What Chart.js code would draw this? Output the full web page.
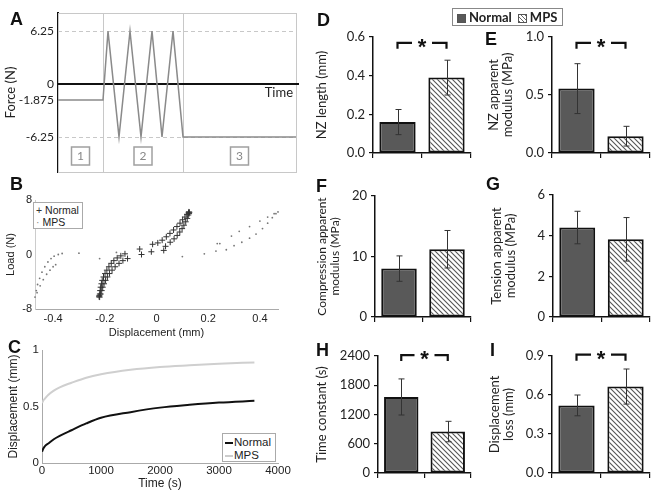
<!DOCTYPE html>
<html lang="en">
<head>
<meta charset="UTF-8">
<title>Disc mechanics: Normal vs MPS</title>
<script src="https://cdn.jsdelivr.net/npm/chart.js"></script>
<style>
  body { margin: 0; background: #fff; }
  #fig { position: relative; width: 654px; height: 498px; overflow: hidden; }
  #fig canvas { position: absolute; }
  .tag { position: absolute; font: bold 18px "Liberation Sans", Arial, sans-serif; line-height: 1; color: #111; z-index: 3; }
  .mleg { position: absolute; box-sizing: border-box; border: 1px solid #aaa; background: #fff; z-index: 3; white-space: nowrap;
          font: 10.5px "Liberation Sans", Arial, sans-serif; color: #222; line-height: 12px; padding: 1px 2px; }
  .mleg .ln { display: inline-block; width: 8px; height: 0; border-top: 2px solid #111; vertical-align: middle; margin-right: 1px; }
  #legTop { position: absolute; left: 452px; top: 8px; width: 111px; height: 18px; box-sizing: border-box; white-space: nowrap;
            border: 1px solid #888; z-index: 3; font: bold 13px Lato, sans-serif; color: #222; line-height: 16px; padding-left: 3px; }
  #legTop .sw { display: inline-block; width: 9px; height: 9px; margin: 0 3px 0 1px; vertical-align: -1px; box-sizing: border-box; border: 1px solid #555; }
  #legTop .dark { background: #595959; }
  #legTop .hatch { background: repeating-linear-gradient(45deg, #666 0 1px, #fff 1px 3px); margin-left: 6px; }
</style>
</head>
<body>
<div id="fig">
  <canvas id="chartA"></canvas>
  <canvas id="chartB"></canvas>
  <canvas id="chartC"></canvas>
  <canvas id="chartD"></canvas>
  <canvas id="chartE"></canvas>
  <canvas id="chartF"></canvas>
  <canvas id="chartG"></canvas>
  <canvas id="chartH"></canvas>
  <canvas id="chartI"></canvas>

  <div class="tag" style="left:10px;top:10px">A</div>
  <div class="tag" style="left:10px;top:175px">B</div>
  <div class="tag" style="left:8px;top:338px">C</div>
  <div class="tag" style="left:317px;top:11px">D</div>
  <div class="tag" style="left:485px;top:30px">E</div>
  <div class="tag" style="left:316px;top:177px">F</div>
  <div class="tag" style="left:486px;top:175px">G</div>
  <div class="tag" style="left:316px;top:341px">H</div>
  <div class="tag" style="left:490px;top:341px">I</div>

  <div id="legTop"><span class="sw dark"></span>Normal<span class="sw hatch"></span>MPS</div>
  <div class="mleg" style="left:33px;top:202px;width:50px;height:27px">
    <div><span style="color:#333">+</span> Normal</div>
    <div><span style="color:#888">&middot;</span> MPS</div>
  </div>
  <div class="mleg" style="left:222px;top:433px;width:54px;height:29px;padding-top:2px;font-size:11.5px;line-height:13px">
    <div><span class="ln"></span>Normal</div>
    <div><span class="ln" style="border-color:#ccc"></span>MPS</div>
  </div>
</div>

<script>
// ---- A: loading protocol ----
const protocolTime  = [0, 45, 50, 61, 72, 83, 94, 104, 115, 125, 238];
const protocolForce = [-1.875, -1.875, 6.25, -6.25, 6.25, -6.25, 6.25, -6.25, 6.25, -6.25, -6.25];
const protocolTicks = [-6.25, -1.875, 0, 6.25];
const dashedLevels  = [6.25, -6.25];
const phaseEdges    = [45, 125];
const phaseLabels   = ['1', '2', '3'];

// ---- B: load-displacement loops ----
const normalDispB = [-0.220, -0.219, -0.218, -0.216, -0.213, -0.210, -0.205, -0.199, -0.192, -0.184, -0.175, -0.165, -0.152, -0.138, -0.122,
  -0.065, -0.015, 0.005, 0.022, 0.038, 0.052, 0.066, 0.079, 0.091, 0.101, 0.110, 0.118, 0.125,
  0.123, 0.119, 0.113, 0.106, 0.099, 0.090, 0.080, 0.068, 0.053, 0.035, 0.028, -0.020, -0.058, -0.112, -0.130, -0.145, -0.160,
  -0.172, -0.182, -0.190, -0.197, -0.203, -0.208, -0.212, -0.216,
  -0.221, -0.222, 0.126, 0.127, 0.124];
const normalLoadB = [-6.25, -5.8, -5.3, -4.8, -4.3, -3.8, -3.3, -2.8, -2.3, -1.8, -1.3, -0.9, -0.5, -0.2, 0.1,
  0.8, 1.5, 1.7, 2.1, 2.6, 3.1, 3.6, 4.1, 4.6, 5.1, 5.5, 5.9, 6.25,
  5.8, 5.3, 4.8, 4.3, 3.8, 3.3, 2.8, 2.3, 1.8, 1.2, 0.6, 0.4, 0.0, -0.6, -0.9, -1.3, -1.8,
  -2.3, -2.8, -3.3, -3.8, -4.3, -4.8, -5.3, -5.8,
  -6.0, -6.2, 6.0, 6.2, 6.1];
const mpsDispB = [-0.470, -0.465, -0.460, -0.452, -0.443, -0.432, -0.420, -0.408, -0.396, -0.380, -0.365,
  -0.462, -0.450, -0.438, -0.425, -0.412, -0.400, -0.390,
  -0.300, -0.220, -0.155, 0.100, 0.185, 0.230, 0.235, 0.245,
  0.270, 0.300, 0.330, 0.360, 0.385, 0.410, 0.430, 0.448, 0.462, 0.470,
  0.290, 0.320, 0.360, 0.400, 0.430, 0.455];
const mpsLoadB = [-6.25, -5.3, -4.4, -3.5, -2.6, -1.8, -1.1, -0.6, -0.25, 0.0, 0.15,
  -5.6, -4.6, -3.7, -2.9, -2.3, -1.8, -1.5,
  0.2, -0.6, 0.3, -0.3, 0.1, 0.5, 1.6, 1.6,
  0.7, 1.3, 1.8, 2.4, 3.0, 3.8, 4.6, 5.4, 6.0, 6.25,
  2.7, 3.4, 4.1, 4.9, 5.5, 6.0];
const loadTicks = [-8, 0, 8];
const dispTicks = [-0.4, -0.2, 0, 0.2, 0.4];

// ---- C: creep displacement ----
const creepTime   = [0, 25, 50, 100, 200, 300, 500, 750, 1000, 1500, 2000, 2500, 3000, 3600];
const creepNormal = [0.10, 0.13, 0.15, 0.17, 0.21, 0.24, 0.29, 0.35, 0.40, 0.45, 0.49, 0.515, 0.535, 0.55];
const creepMps    = [0.53, 0.555, 0.57, 0.60, 0.64, 0.67, 0.71, 0.755, 0.785, 0.825, 0.85, 0.865, 0.878, 0.89];
const timeTicks   = [0, 1000, 2000, 3000, 4000];
const creepTicks  = [0, 0.5, 1];

// ---- D-I: group means and SD ----
const groups = ['Normal', 'MPS'];
const nzLength = [0.16, 0.39],   nzLengthSd = [0.065, 0.09],   nzLengthTicks = [0, 0.2, 0.4, 0.6];
const nzModulus = [0.555, 0.145], nzModulusSd = [0.215, 0.085], nzModulusTicks = [0, 0.5, 1.0];
const compModulus = [8.0, 11.2], compModulusSd = [2.1, 3.1],    compModulusTicks = [0, 10, 20];
const tensModulus = [4.4, 3.82], tensModulusSd = [0.8, 1.07],   tensModulusTicks = [0, 2, 4, 6];
const timeConst = [1560, 850],   timeConstSd = [370, 210],      timeConstTicks = [0, 600, 1200, 1800, 2400];
const dispLoss = [0.52, 0.665],  dispLossSd = [0.08, 0.135],    dispLossTicks = [0, 0.3, 0.6, 0.9];

const calibri = 'Lato, "Open Sans", sans-serif';
const arial = '"Liberation Sans", Arial, sans-serif';

function place(id, x, y, w, h) {
  const c = document.getElementById(id);
  c.width = w; c.height = h;
  c.style.left = x + 'px'; c.style.top = y + 'px';
  return c;
}
const pairs = (xs, ys) => xs.map((v, i) => ({ x: v, y: ys[i] }));
const setTicks = arr => s => { s.ticks = arr.map(v => ({ value: v })); };
const base = { responsive: false, animation: false, events: [] };
const noGrid = { display: false, drawTicks: false };

// hatch for MPS bars
const hatch = (() => {
  const c = document.createElement('canvas');
  c.width = c.height = 5;
  const g = c.getContext('2d');
  g.fillStyle = '#fff'; g.fillRect(0, 0, 5, 5);
  g.strokeStyle = '#555'; g.lineWidth = 1.1;
  g.beginPath();
  g.moveTo(-1, -1); g.lineTo(6, 6);
  g.moveTo(-1, 4); g.lineTo(1, 6);
  g.moveTo(4, -1); g.lineTo(6, 1);
  g.stroke();
  return g.createPattern(c, 'repeat');
})();

// ---------- A ----------
const protocolDecor = {
  id: 'protocolDecor',
  beforeDatasetsDraw(chart) {
    const { ctx, chartArea: a, scales: { x, y } } = chart;
    ctx.save();
    ctx.strokeStyle = '#c8c8c8'; ctx.lineWidth = 1;
    ctx.strokeRect(a.left + 0.5, a.top + 0.5, a.right - a.left, a.bottom - a.top);
    ctx.beginPath();
    phaseEdges.forEach(t => {
      const px = Math.round(x.getPixelForValue(t)) + 0.5;
      ctx.moveTo(px, a.top); ctx.lineTo(px, a.bottom);
    });
    ctx.stroke();
    ctx.setLineDash([4, 3]);
    ctx.beginPath();
    dashedLevels.forEach(v => {
      const py = Math.round(y.getPixelForValue(v)) + 0.5;
      ctx.moveTo(a.left, py); ctx.lineTo(a.right, py);
    });
    ctx.stroke();
    ctx.setLineDash([]);
    const y0 = y.getPixelForValue(0);
    ctx.strokeStyle = '#111'; ctx.lineWidth = 2;
    ctx.beginPath(); ctx.moveTo(a.left, y0); ctx.lineTo(a.right + 3, y0); ctx.stroke();
    ctx.fillStyle = '#222'; ctx.font = '13px ' + calibri;
    ctx.textAlign = 'right'; ctx.textBaseline = 'middle';
    ctx.fillText('Time', a.right - 3, y0 + 9);
    // phase number boxes
    const edges = [x.min, ...phaseEdges, x.max];
    ctx.lineWidth = 1.5; ctx.strokeStyle = '#a0a0a0'; ctx.fillStyle = '#888';
    ctx.font = '12px ' + calibri; ctx.textAlign = 'center';
    phaseLabels.forEach((lab, i) => {
      const cx = x.getPixelForValue((edges[i] + edges[i + 1]) / 2);
      const by = a.bottom - 25;
      ctx.strokeRect(cx - 9, by, 18, 18);
      ctx.fillText(lab, cx, by + 9.5);
    });
    ctx.restore();
  }
};

new Chart(place('chartA', 0, 1, 305, 183), {
  type: 'line',
  data: { datasets: [{ data: pairs(protocolTime, protocolForce), borderColor: '#8a8a8a', borderWidth: 1.5, pointRadius: 0, tension: 0 }] },
  options: {
    ...base,
    layout: { padding: { top: 12, right: 9, bottom: 12, left: 0 } },
    plugins: { legend: { display: false }, tooltip: { enabled: false } },
    scales: {
      x: { type: 'linear', min: 0, max: 238, display: false },
      y: {
        min: -10.4, max: 8.4, afterBuildTicks: setTicks(protocolTicks),
        grid: noGrid, border: { color: '#111', width: 2 },
        ticks: { padding: 4, color: '#222', font: { family: calibri, size: 12 }, callback: v => String(v) },
        title: { display: true, text: 'Force (N)', color: '#222', font: { family: calibri, size: 13, lineHeight: 1.1 }, padding: { top: 4, bottom: 0 } },
        afterFit: s => { s.width = 58; }
      }
    }
  },
  plugins: [protocolDecor]
});

// ---------- B ----------
new Chart(place('chartB', 0, 188, 290, 152), {
  type: 'scatter',
  data: {
    datasets: [
      { label: 'Normal', data: pairs(normalDispB, normalLoadB), pointStyle: 'cross', pointRadius: 3, borderColor: '#333', borderWidth: 1, clip: false },
      { label: 'MPS', data: pairs(mpsDispB, mpsLoadB), pointStyle: 'circle', pointRadius: 0.9, backgroundColor: '#777', borderWidth: 0, clip: false }
    ]
  },
  options: {
    ...base,
    layout: { padding: { top: 12, right: 12, bottom: 0, left: 0 } },
    plugins: { legend: { display: false }, tooltip: { enabled: false } },
    scales: {
      x: {
        type: 'linear', min: -0.47, max: 0.47, afterBuildTicks: setTicks(dispTicks),
        grid: noGrid, border: { color: '#aaa' },
        ticks: { padding: 3, color: '#222', font: { family: arial, size: 11 }, callback: v => v === 0 ? '0' : v.toFixed(1) },
        title: { display: true, text: 'Displacement (mm)', color: '#222', font: { family: arial, size: 11 }, padding: 0 },
        afterFit: s => { s.height = 31; }
      },
      y: {
        min: -8, max: 8, afterBuildTicks: setTicks(loadTicks),
        grid: noGrid, border: { color: '#ccc' },
        ticks: { padding: 3, color: '#222', font: { family: arial, size: 11 }, callback: v => String(v) },
        title: { display: true, text: 'Load (N)', color: '#222', font: { family: arial, size: 11 }, padding: { top: 4, bottom: 0 } },
        afterFit: s => { s.width = 35; }
      }
    }
  }
});

// ---------- C ----------
new Chart(place('chartC', 0, 338, 300, 160), {
  type: 'line',
  data: {
    datasets: [
      { label: 'Normal', data: pairs(creepTime, creepNormal), borderColor: '#111', borderWidth: 2, pointRadius: 0, cubicInterpolationMode: 'monotone' },
      { label: 'MPS', data: pairs(creepTime, creepMps), borderColor: '#cfcfcf', borderWidth: 2, pointRadius: 0, cubicInterpolationMode: 'monotone' }
    ]
  },
  options: {
    ...base,
    layout: { padding: { top: 12, right: 22, bottom: 0, left: 0 } },
    plugins: { legend: { display: false }, tooltip: { enabled: false } },
    scales: {
      x: {
        type: 'linear', min: 0, max: 4000, afterBuildTicks: setTicks(timeTicks),
        grid: noGrid, border: { color: '#aaa' },
        ticks: { padding: 1, color: '#222', font: { family: arial, size: 11.5 }, callback: v => String(v) },
        title: { display: true, text: 'Time (s)', color: '#222', font: { family: arial, size: 12 }, padding: { top: 0, bottom: 7 } },
        afterFit: s => { s.height = 35; }
      },
      y: {
        min: 0, max: 1, afterBuildTicks: setTicks(creepTicks),
        grid: noGrid, border: { color: '#aaa' },
        ticks: { padding: 3, color: '#222', font: { family: arial, size: 11.5 }, callback: v => String(v) },
        title: { display: true, text: 'Displacement (mm)', color: '#222', font: { family: arial, size: 12 }, padding: { top: 6, bottom: 0 } },
        afterFit: s => { s.width = 42; }
      }
    }
  }
});

// ---------- D-I bar panels ----------
// left / top: canvas corner; plot: [left, top, right, bottom] of the axes box
function barPanel(id, left, width, plot, values, sd, ticks, dec, title, titleX, titleSize, bracketAt) {
  const top = plot[1] - 25, height = plot[3] + 12 - top;
  const lh = titleSize * 1.1;
  const extras = {
    id: 'barExtras',
    afterDatasetsDraw(chart) {
      const { ctx, scales: { y } } = chart;
      const bars = chart.getDatasetMeta(0).data;
      ctx.save();
      ctx.strokeStyle = '#333'; ctx.lineWidth = 1;
      bars.forEach((b, i) => {
        const x = Math.round(b.x) + 0.5;
        const hi = y.getPixelForValue(values[i] + sd[i]);
        const lo = y.getPixelForValue(values[i] - sd[i]);
        ctx.beginPath();
        ctx.moveTo(x, hi); ctx.lineTo(x, lo);
        ctx.moveTo(x - 3, hi); ctx.lineTo(x + 3, hi);
        ctx.moveTo(x - 3, lo); ctx.lineTo(x + 3, lo);
        ctx.stroke();
      });
      if (bracketAt !== null) {
        const yb = y.getPixelForValue(bracketAt);
        const x0 = bars[0].x, x1 = bars[1].x, mid = (x0 + x1) / 2;
        ctx.strokeStyle = '#111'; ctx.lineWidth = 2.2;
        ctx.beginPath();
        ctx.moveTo(x0, yb + 6); ctx.lineTo(x0, yb); ctx.lineTo(mid - 10, yb);
        ctx.moveTo(mid + 10, yb); ctx.lineTo(x1, yb); ctx.lineTo(x1, yb + 6);
        ctx.stroke();
        ctx.fillStyle = '#111'; ctx.font = 'bold 22px ' + arial;
        ctx.textAlign = 'center'; ctx.textBaseline = 'middle';
        ctx.fillText('*', mid, yb + 5);
      }
      ctx.restore();
    }
  };
  return new Chart(place(id, left, top, width, height), {
    type: 'bar',
    data: {
      labels: groups,
      datasets: [{
        data: values, backgroundColor: ['#595959', hatch], borderColor: '#111', borderWidth: 2,
        borderSkipped: false, categoryPercentage: 1, barPercentage: 0.74
      }]
    },
    options: {
      ...base,
      layout: { padding: { left: 0, top: plot[1] - top, right: left + width - plot[2], bottom: 0 } },
      plugins: { legend: { display: false }, tooltip: { enabled: false } },
      scales: {
        x: {
          grid: { offset: true, drawOnChartArea: false, drawTicks: true, tickLength: 5, color: '#111', lineWidth: 1.2 },
          border: { color: '#111', width: 1.5 },
          ticks: { display: false },
          afterFit: s => { s.height = top + height - plot[3]; }
        },
        y: {
          min: 0, max: ticks[ticks.length - 1], afterBuildTicks: setTicks(ticks),
          grid: { drawOnChartArea: false, tickLength: 4, color: '#111', lineWidth: 1.2 },
          border: { color: '#111', width: 1.5 },
          ticks: { padding: 4, color: '#222', font: { family: calibri, size: 13 }, callback: v => v.toFixed(dec) },
          title: {
            display: true, text: title, color: '#222', font: { family: calibri, size: titleSize, lineHeight: 1.1 },
            padding: { top: titleX - left - lh / 2, bottom: 0 }
          },
          afterFit: s => { s.width = plot[0] - left; }
        }
      }
    },
    plugins: [extras]
  });
}

barPanel('chartD', 305, 175, [373, 37, 471, 153], nzLength, nzLengthSd, nzLengthTicks, 1,
  'NZ length (mm)', 322, 13, 0.57);
barPanel('chartE', 478, 176, [552, 37, 650, 153], nzModulus, nzModulusSd, nzModulusTicks, 1,
  ['NZ apparent', 'modulus (MPa)'], 494, 13, 0.95);
barPanel('chartF', 305, 175, [375, 196, 471, 317], compModulus, compModulusSd, compModulusTicks, 0,
  ['Compression apparent', 'modulus (MPa)'], 322, 12, null);
barPanel('chartG', 478, 176, [553, 195, 650, 317], tensModulus, tensModulusSd, tensModulusTicks, 0,
  ['Tension apparent', 'modulus (MPa)'], 497, 13, null);
barPanel('chartH', 305, 175, [378, 356, 471, 473], timeConst, timeConstSd, timeConstTicks, 0,
  'Time constant (s)', 322, 13, 2420);
barPanel('chartI', 478, 176, [552, 356, 650, 473], dispLoss, dispLossSd, dispLossTicks, 1,
  ['Displacement', 'loss (mm)'], 495, 13, 0.91);
</script>
</body>
</html>
